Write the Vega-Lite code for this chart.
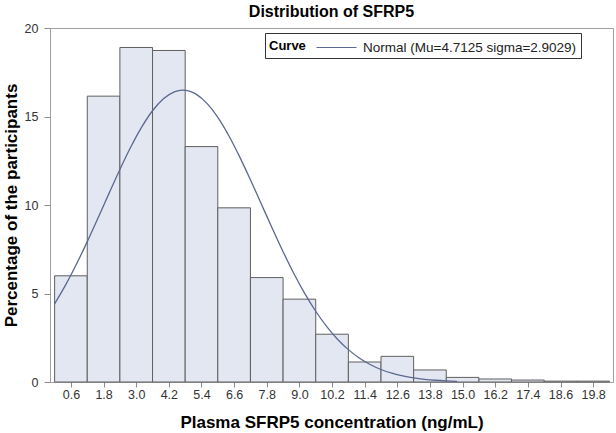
{
  "$schema": "https://vega.github.io/schema/vega-lite/v6.json",
  "autosize": "none",
  "width": 563,
  "height": 354,
  "padding": {"left": 50, "top": 28, "right": 3, "bottom": 51},
  "background": "white",
  "config": {
    "font": "Liberation Sans",
    "view": {"stroke": "#a0a0a0", "strokeWidth": 1},
    "axis": {"grid": false, "labelFont": "Liberation Sans", "titleFont": "Liberation Sans", "labelColor": "#333333", "titleColor": "#000000", "tickColor": "#8c8c8c", "domainColor": "#8c8c8c", "labelFontSize": 12.5, "titleFontSize": 17, "titleFontWeight": "bold"},
    "axisX": {"labelOverlap": false, "labelFontSize": 12.5}
  },
  "title": {"text": "Distribution of SFRP5", "fontSize": 16, "fontWeight": "bold", "font": "Liberation Sans", "color": "#000000", "anchor": "middle", "offset": 2},
  "layer": [
    {
      "data": {"values": [
        {"lo": 0.0, "hi": 1.2, "pct": 6.0},
        {"lo": 1.2, "hi": 2.4, "pct": 16.15},
        {"lo": 2.4, "hi": 3.6, "pct": 18.9},
        {"lo": 3.6, "hi": 4.8, "pct": 18.73},
        {"lo": 4.8, "hi": 6.0, "pct": 13.3},
        {"lo": 6.0, "hi": 7.2, "pct": 9.84},
        {"lo": 7.2, "hi": 8.4, "pct": 5.9},
        {"lo": 8.4, "hi": 9.6, "pct": 4.68},
        {"lo": 9.6, "hi": 10.8, "pct": 2.7},
        {"lo": 10.8, "hi": 12.0, "pct": 1.13},
        {"lo": 12.0, "hi": 13.2, "pct": 1.45},
        {"lo": 13.2, "hi": 14.4, "pct": 0.68},
        {"lo": 14.4, "hi": 15.6, "pct": 0.26},
        {"lo": 15.6, "hi": 16.8, "pct": 0.17},
        {"lo": 16.8, "hi": 18.0, "pct": 0.11},
        {"lo": 18.0, "hi": 19.2, "pct": 0.05},
        {"lo": 19.2, "hi": 20.4, "pct": 0.05}
      ]},
      "mark": {"type": "rect", "fill": "#e2e7f1", "stroke": "#5f5f5f", "strokeWidth": 1},
      "encoding": {
        "x": {"field": "lo", "type": "quantitative", "scale": {"domain": [-0.17, 20.53], "nice": false, "zero": false},
          "axis": {"values": [0.6, 1.8, 3.0, 4.2, 5.4, 6.6, 7.8, 9.0, 10.2, 11.4, 12.6, 13.8, 15.0, 16.2, 17.4, 18.6, 19.8], "tickCount": 40, "format": ".1f", "labelOverlap": false, "labelFontSize": 12.5, "tickSize": 5, "labelPadding": 1, "domain": false, "title": "Plasma SFRP5 concentration (ng/mL)", "titlePadding": 14}},
        "x2": {"field": "hi"},
        "y": {"field": "pct", "type": "quantitative", "scale": {"domain": [0, 20], "nice": false},
          "axis": {"values": [0, 5, 10, 15, 20], "tickSize": 6, "labelPadding": 6, "domain": false, "title": "Percentage of the participants", "titlePadding": 4}},
        "y2": {"datum": 0}
      }
    },
    {
      "data": {"values": [
        {"x": 0.0, "y": 4.416}, {"x": 0.4, "y": 5.470}, {"x": 0.8, "y": 6.650}, {"x": 1.2, "y": 7.931},
        {"x": 1.6, "y": 9.281}, {"x": 2.0, "y": 10.657}, {"x": 2.4, "y": 12.008}, {"x": 2.8, "y": 13.274},
        {"x": 3.2, "y": 14.398}, {"x": 3.6, "y": 15.324}, {"x": 4.0, "y": 16.002}, {"x": 4.4, "y": 16.396},
        {"x": 4.7125, "y": 16.492}, {"x": 5.2, "y": 16.261}, {"x": 5.6, "y": 15.739}, {"x": 6.0, "y": 14.947},
        {"x": 6.4, "y": 13.928}, {"x": 6.8, "y": 12.734}, {"x": 7.2, "y": 11.424}, {"x": 7.6, "y": 10.056},
        {"x": 8.0, "y": 8.685}, {"x": 8.4, "y": 7.360}, {"x": 8.8, "y": 6.120}, {"x": 9.2, "y": 4.993},
        {"x": 9.6, "y": 3.997}, {"x": 10.0, "y": 3.139}, {"x": 10.4, "y": 2.419}, {"x": 10.8, "y": 1.829},
        {"x": 11.2, "y": 1.357}, {"x": 11.6, "y": 0.988}, {"x": 12.0, "y": 0.706}, {"x": 12.4, "y": 0.495},
        {"x": 12.8, "y": 0.340}, {"x": 13.2, "y": 0.230}, {"x": 13.6, "y": 0.152}, {"x": 14.0, "y": 0.099},
        {"x": 14.4, "y": 0.063}, {"x": 14.8, "y": 0.039}
      ]},
      "mark": {"type": "line", "strokeWidth": 1.3, "interpolate": "monotone"},
      "encoding": {
        "x": {"field": "x", "type": "quantitative"},
        "y": {"field": "y", "type": "quantitative"},
        "color": {"datum": "Normal (Mu=4.7125 sigma=2.9029)", "type": "nominal",
          "scale": {"range": ["#5b6890"]},
          "legend": {"title": "Curve", "orient": "none", "legendX": 215, "legendY": 5, "direction": "horizontal", "titleOrient": "left",
            "titleBaseline": "middle",
            "titleFontSize": 13, "titleFontWeight": "bold", "titleColor": "#000000", "titleFont": "Liberation Sans", "titlePadding": 20,
            "labelFontSize": 13.5, "labelColor": "#222222", "labelFont": "Liberation Sans", "labelOffset": 16, "labelLimit": 400,
            "symbolType": "M-2,0H2", "symbolSize": 400, "symbolStrokeWidth": 1, "symbolStrokeColor": "#5b6890",
            "strokeColor": "#333333", "fillColor": "white", "padding": 4}}
      }
    }
  ]
}
